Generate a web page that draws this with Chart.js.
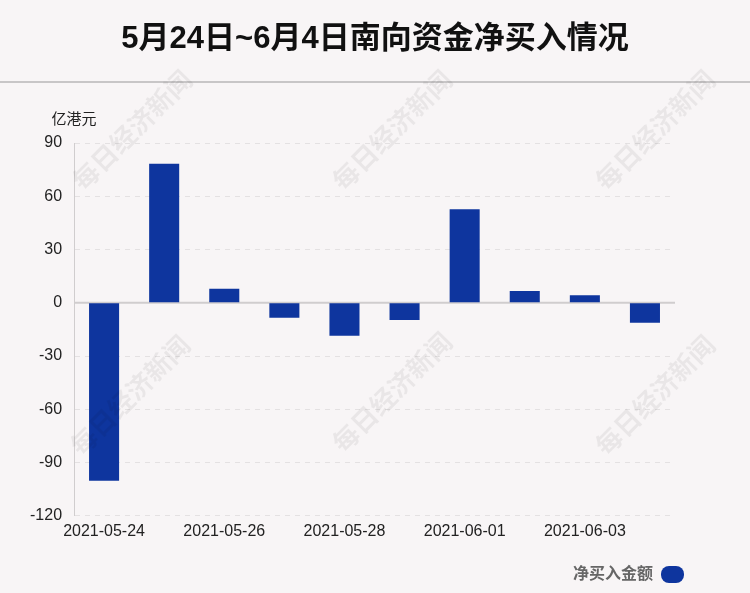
<!DOCTYPE html>
<html>
<head>
<meta charset="utf-8">
<script src="https://cdn.jsdelivr.net/npm/chart.js@4.4.0/dist/chart.umd.min.js"></script>
<style>
  body { margin: 0; background: #f8f5f6; }
  #wrap { width: 750px; height: 593px; position: relative; }
</style>
</head>
<body>
<div id="wrap"><canvas id="myChart" width="750" height="593"></canvas></div>
<script>
// data
var fechas = ['2021-05-24', '2021-05-25', '2021-05-26', '2021-05-27', '2021-05-28',
              '2021-05-31', '2021-06-01', '2021-06-02', '2021-06-03', '2021-06-04'];
var compraNeta = [-100.2, 78.3, 7.9, -8.4, -18.6, -9.7, 52.7, 6.6, 4.3, -11.2];
var ticksY = [90, 60, 30, 0, -30, -60, -90, -120];
var titulo = '5月24日~6月4日南向资金净买入情况';
var unidad = '亿港元';
var serie = '净买入金额';
var marcaAgua = '每日经济新闻';

var fuente = '"Liberation Sans", "Noto Sans CJK SC", sans-serif';

// fondo, titulo, linea, marca de agua, unidad y linea del cero
var decoracion = {
    id: 'decoracion',
    beforeDraw: function(chart){
        var ctx = chart.ctx;
        ctx.save();
        ctx.fillStyle = '#f8f5f6';
        ctx.fillRect(0, 0, chart.width, chart.height);
        ctx.strokeStyle = '#c8c6c7';
        ctx.lineWidth = 2;
        ctx.beginPath();
        ctx.moveTo(0, 82);
        ctx.lineTo(chart.width, 82);
        ctx.stroke();
        ctx.font = 'bold 31px ' + fuente;
        ctx.fillStyle = '#111';
        ctx.textAlign = 'center';
        ctx.textBaseline = 'middle';
        ctx.fillText(titulo, chart.width / 2, 39);
        ctx.restore();
    },
    beforeDatasetsDraw: function(chart){
        var ctx = chart.ctx;
        var area = chart.chartArea;
        var y0 = chart.scales.y.getPixelForValue(0);
        ctx.save();
        ctx.strokeStyle = '#d0cdce';
        ctx.lineWidth = 2;
        ctx.beginPath();
        ctx.moveTo(area.left, y0);
        ctx.lineTo(area.right, y0);
        ctx.stroke();
        ctx.restore();
    },
    afterDraw: function(chart){
        var ctx = chart.ctx;
        var area = chart.chartArea;
        ctx.save();
        ctx.font = '15px ' + fuente;
        ctx.fillStyle = '#222';
        ctx.textAlign = 'center';
        ctx.textBaseline = 'middle';
        ctx.fillText(unidad, area.left, 120);

        var sitios = [[132, 130], [392, 130], [655, 130], [130, 395], [392, 392], [655, 395]];
        ctx.font = 'bold 26px "Noto Sans CJK SC", sans-serif';
        ctx.fillStyle = 'rgba(0,0,0,0.06)';
        sitios.forEach(function(p){
            ctx.save();
            ctx.translate(p[0], p[1]);
            ctx.rotate(-Math.PI / 4);
            ctx.fillText(marcaAgua, 0, 0);
            ctx.restore();
        });
        ctx.restore();
    }
};

function setGrafico(){
    const ctx = document.getElementById('myChart').getContext('2d');
    const myChart = new Chart(ctx, {
        type: 'bar',
        data: {
            labels: fechas,
            datasets: [{
                label: serie,
                data: compraNeta,
                backgroundColor: '#0e359e',
                borderWidth: 0,
                barPercentage: 0.5,
                categoryPercentage: 1,
                yAxisID: 'y'
            }]
        },
        options: {
            responsive: false,
            animation: false,
            layout: { padding: { left: 18, right: 56, top: 143, bottom: 0 } },
            plugins: {
                title: { display: false },
                legend: {
                    position: 'bottom',
                    align: 'start',
                    rtl: true,
                    labels: {
                        color: '#666',
                        font: { size: 16, weight: 'bold', family: fuente },
                        boxWidth: 23,
                        boxHeight: 17,
                        useBorderRadius: true,
                        borderRadius: 8,
                        padding: 10
                    }
                },
                tooltip: { enabled: false }
            },
            scales: {
                x: {
                    grid: { display: false, drawTicks: false },
                    border: { display: false },
                    afterFit: function(axis){ axis.height = axis.height + 9; },
                    ticks: {
                        color: '#222',
                        font: { size: 16, family: fuente },
                        maxRotation: 0,
                        autoSkip: true,
                        padding: 6
                    }
                },
                y: {
                    min: -120,
                    max: 90,
                    afterBuildTicks: function(axis){
                        axis.ticks = ticksY.map(function(v){ return { value: v }; });
                    },
                    grid: {
                        color: function(c){ return c.tick.value === 0 ? 'rgba(0,0,0,0)' : '#e4e1e2'; },
                        drawTicks: false
                    },
                    border: { display: true, color: '#d0cdce', dash: [5, 5], width: 1 },
                    ticks: {
                        color: '#222',
                        font: { size: 16, family: fuente },
                        padding: 12
                    }
                },
                y2: {
                    position: 'right',
                    display: true,
                    grid: { display: false, drawTicks: false },
                    border: { display: false },
                    ticks: { display: false },
                    afterFit: function(axis){ axis.width = 19; }
                }
            }
        },
        plugins: [decoracion]
    });
}

setGrafico();
</script>
</body>
</html>
